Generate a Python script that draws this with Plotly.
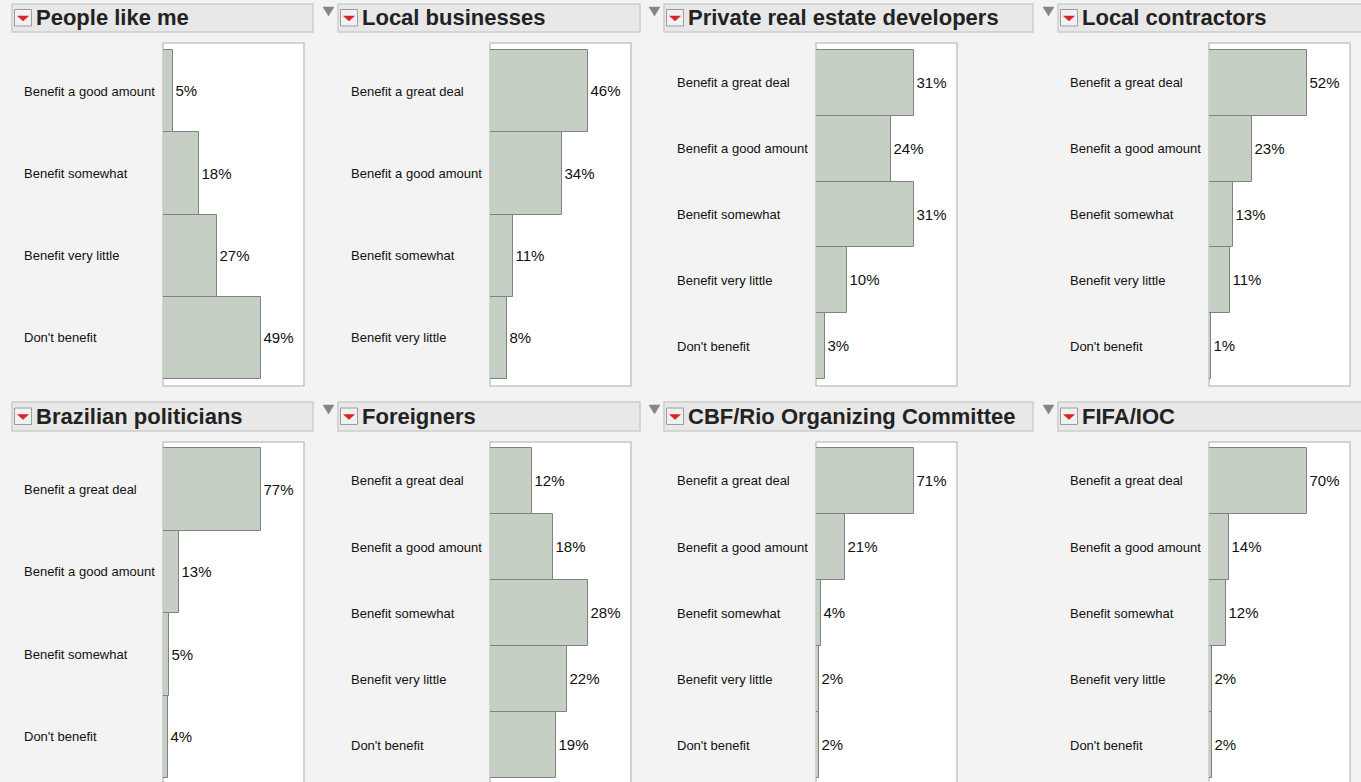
import plotly.graph_objects as go

# ---------------- data ----------------
GREAT = "Benefit a great deal"
GOOD = "Benefit a good amount"
SOME = "Benefit somewhat"
LITTLE = "Benefit very little"
NONE = "Don't benefit"

titles = ["People like me", "Local businesses", "Private real estate developers",
          "Local contractors", "Brazilian politicians", "Foreigners",
          "CBF/Rio Organizing Committee", "FIFA/IOC"]

people_cats = [GOOD, SOME, LITTLE, NONE]
people_vals = [5, 18, 27, 49]

business_cats = [GREAT, GOOD, SOME, LITTLE]
business_vals = [46, 34, 11, 8]

developers_cats = [GREAT, GOOD, SOME, LITTLE, NONE]
developers_vals = [31, 24, 31, 10, 3]

contractors_cats = [GREAT, GOOD, SOME, LITTLE, NONE]
contractors_vals = [52, 23, 13, 11, 1]

politicians_cats = [GREAT, GOOD, SOME, NONE]
politicians_vals = [77, 13, 5, 4]

foreigners_cats = [GREAT, GOOD, SOME, LITTLE, NONE]
foreigners_vals = [12, 18, 28, 22, 19]

cbf_cats = [GREAT, GOOD, SOME, LITTLE, NONE]
cbf_vals = [71, 21, 4, 2, 2]

fifa_cats = [GREAT, GOOD, SOME, LITTLE, NONE]
fifa_vals = [70, 14, 12, 2, 2]

panel_cats = [people_cats, business_cats, developers_cats, contractors_cats,
              politicians_cats, foreigners_cats, cbf_cats, fifa_cats]
panel_vals = [people_vals, business_vals, developers_vals, contractors_vals,
              politicians_vals, foreigners_vals, cbf_vals, fifa_vals]

# ---------------- layout geometry (pixels) ----------------
W, H = 1361, 782
box_left = [163, 490, 816, 1209]
box_w = 141
header_x = [(12, 313), (338, 640), (664, 1033), (1058, 1370)]
header_y = [(4, 32), (402, 431)]
box_y = [(43, 386), (442, 800)]
dom_y = [(43, 386), (442, 782)]
bar_y = [(50, 379), (448, 778)]
max_bar_px = 97.5
label_offset = 141

BG = "#f3f3f3"
HEADER_FILL = "#e8e8e8"
HEADER_LINE = "#cdcdcd"
BAR_FILL = "#c6cfc3"
BAR_LINE = "#7d837e"
BOX_LINE = "#c6c6c6"
FONT = "Liberation Sans, Arial, Helvetica, sans-serif"


def px(x):
    return x / W


def py(y):
    return 1 - y / H


fig = go.Figure()
layout = dict(
    width=W, height=H, margin=dict(l=0, r=0, t=0, b=0),
    paper_bgcolor=BG, plot_bgcolor="rgba(0,0,0,0)",
    showlegend=False, bargap=0,
    font=dict(family=FONT, color="#111111"),
)
shapes = []
annotations = []

for i in range(8):
    r, c = divmod(i, 4)
    cats = panel_cats[i]
    vals = panel_vals[i]
    n = len(cats)
    k = i + 1
    xa = "x" if k == 1 else f"x{k}"
    ya = "y" if k == 1 else f"y{k}"

    fig.add_trace(go.Bar(
        x=vals, y=list(range(n)), orientation="h", width=1,
        marker=dict(color=BAR_FILL, line=dict(color=BAR_LINE, width=1)),
        text=[f"{v}%" for v in vals], textposition="outside",
        textfont=dict(size=15, color="#111111", family=FONT),
        constraintext="none", cliponaxis=False,
        xaxis=xa, yaxis=ya, hoverinfo="skip",
    ))

    # axis ranges
    d0, d1 = dom_y[r]
    b0, b1 = bar_y[r]
    unit = (b1 - b0) / n
    rng_y = [n - 0.5 + (d1 - b1) / unit, -0.5 - (b0 - d0) / unit]
    xmax = max(vals) * box_w / max_bar_px
    L = box_left[c]

    axis_common = dict(showgrid=False, zeroline=False, showticklabels=False,
                       ticks="", showline=False, fixedrange=True)
    layout["xaxis" if k == 1 else f"xaxis{k}"] = dict(
        domain=[px(L), px(L + box_w)], range=[0, xmax], anchor=ya, **axis_common)
    layout["yaxis" if k == 1 else f"yaxis{k}"] = dict(
        domain=[py(d1), py(d0)], range=rng_y, anchor=xa, **axis_common)

    # white plot box
    by0, by1 = box_y[r]
    shapes.append(dict(type="rect", xref="paper", yref="paper", layer="below",
                       x0=px(L), x1=px(L + box_w), y0=py(by1), y1=py(by0),
                       fillcolor="white", line=dict(color=BOX_LINE, width=1.5)))

    # category labels
    for j, cat in enumerate(cats):
        annotations.append(dict(
            text=cat, xref=f"{xa} domain", yref=ya, x=-label_offset / box_w, y=j,
            xanchor="left", yanchor="middle", showarrow=False,
            font=dict(size=13, color="#111111", family=FONT)))

    # header bar
    hx0, hx1 = header_x[c]
    hy0, hy1 = header_y[r]
    hc = (hy0 + hy1) / 2
    shapes.append(dict(type="rect", xref="paper", yref="paper", layer="below",
                       x0=px(hx0), x1=px(hx1), y0=py(hy1), y1=py(hy0),
                       fillcolor=HEADER_FILL, line=dict(color=HEADER_LINE, width=1.5)))
    # red menu icon
    ix0, ix1 = hx0 + 2.5, hx0 + 19.5
    iy0, iy1 = hc - 8.5, hc + 8
    shapes.append(dict(type="rect", xref="paper", yref="paper",
                       x0=px(ix0), x1=px(ix1), y0=py(iy1), y1=py(iy0),
                       fillcolor="#f1f1f1", line=dict(color="#9c9c9c", width=1)))
    tcx = (ix0 + ix1) / 2
    ty = hc - 2
    shapes.append(dict(type="path", xref="paper", yref="paper",
                       path=f"M {px(tcx - 5.5)} {py(ty)} L {px(tcx + 5.5)} {py(ty)} "
                            f"L {px(tcx)} {py(ty + 5)} Z",
                       fillcolor="#d8232a", line=dict(color="#d8232a", width=0.5)))
    # gray disclosure triangle to the left of header (columns 2-4)
    if c > 0:
        gx0, gx1 = hx0 - 15, hx0 - 4
        gy0 = hy0 + 3
        shapes.append(dict(type="path", xref="paper", yref="paper",
                           path=f"M {px(gx0)} {py(gy0)} L {px(gx1)} {py(gy0)} "
                                f"L {px((gx0 + gx1) / 2)} {py(gy0 + 9)} Z",
                           fillcolor="#858585", line=dict(color="#858585", width=0.5)))
    # title
    annotations.append(dict(
        text=f"<b>{titles[i]}</b>", xref="paper", yref="paper",
        x=px(hx0 + 22), y=py(hc), xanchor="left", yanchor="middle", showarrow=False,
        font=dict(size=22, color="#222222", family=FONT)))

layout["shapes"] = shapes
layout["annotations"] = annotations
fig.update_layout(**layout)
fig.write_html(
    "out.html",
    config={"displayModeBar": False},
    post_script="document.body.style.margin='0';document.body.style.overflow='hidden';",
)
